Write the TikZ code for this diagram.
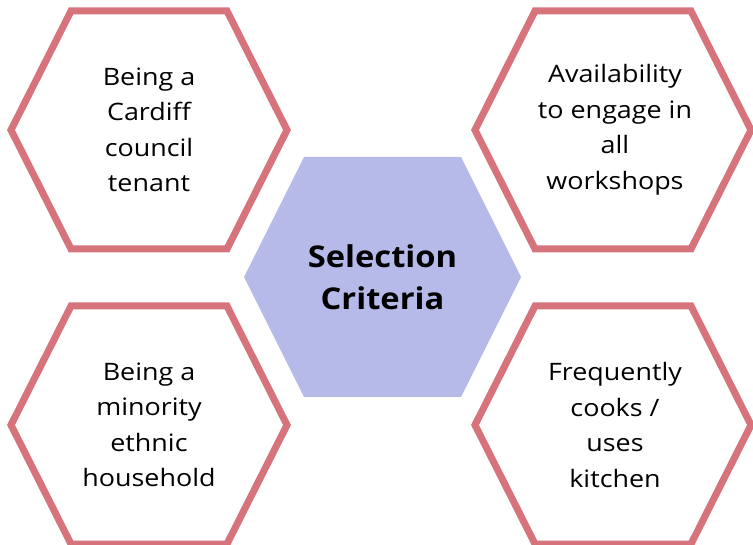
\documentclass[tikz,border=0pt]{standalone}
\usepackage{fontspec}
\setmainfont{Open Sans}
\newfontfamily\critfont[FakeStretch=1.12]{Open Sans}
\newfontfamily\titlefont[FakeStretch=1.09]{Open Sans Bold}
\definecolor{hexred}{RGB}{214,115,123}
\definecolor{hexblue}{RGB}{181,186,233}
\tikzset{
  hexline/.style={draw=hexred, line width=7pt, line join=miter},
  hexfill/.style={fill=hexblue, draw=none},
  crittext/.style={align=center, font=\critfont\fontsize{24}{35.5}\selectfont, text=black},
  titletext/.style={align=center, font=\titlefont\fontsize{30}{42}\selectfont, text=black}
}
\newcommand{\hexpath}[6]{%
  % #1 style, #2 cx, #3 cy, #4 half-width, #5 half-height, #6 inset
  \path[#1] (#2pt-#4pt,#3pt) -- (#2pt-#4pt+#6pt,#3pt+#5pt) -- (#2pt+#4pt-#6pt,#3pt+#5pt)
    -- (#2pt+#4pt,#3pt) -- (#2pt+#4pt-#6pt,#3pt-#5pt) -- (#2pt-#4pt+#6pt,#3pt-#5pt) -- cycle;}
\begin{document}
\begin{tikzpicture}[x=1pt,y=1pt]
\useasboundingbox (0,0) rectangle (753,544);
% center hexagon
\hexpath{hexfill}{382.5}{267}{138.5}{120}{60}
% outer hexagons
\hexpath{hexline}{149}{414}{138}{119}{60}
\hexpath{hexline}{613}{414}{138}{119}{60}
\hexpath{hexline}{149}{119}{138}{119}{60}
\hexpath{hexline}{613}{119}{138}{119}{60}
\node[titletext] (center) at (382.5,267) {Selection\\Criteria};
\node[crittext] (tl) at (149,414) {Being a\\Cardiff\\council\\tenant};
\node[crittext] (tr) at (615,414) {Availability\\to engage in\\all\\workshops};
\node[crittext] (bl) at (149,119) {Being a\\minority\\ethnic\\household};
\node[crittext] (br) at (615,119) {Frequently\\cooks /\\uses\\kitchen};
\end{tikzpicture}
\end{document}
